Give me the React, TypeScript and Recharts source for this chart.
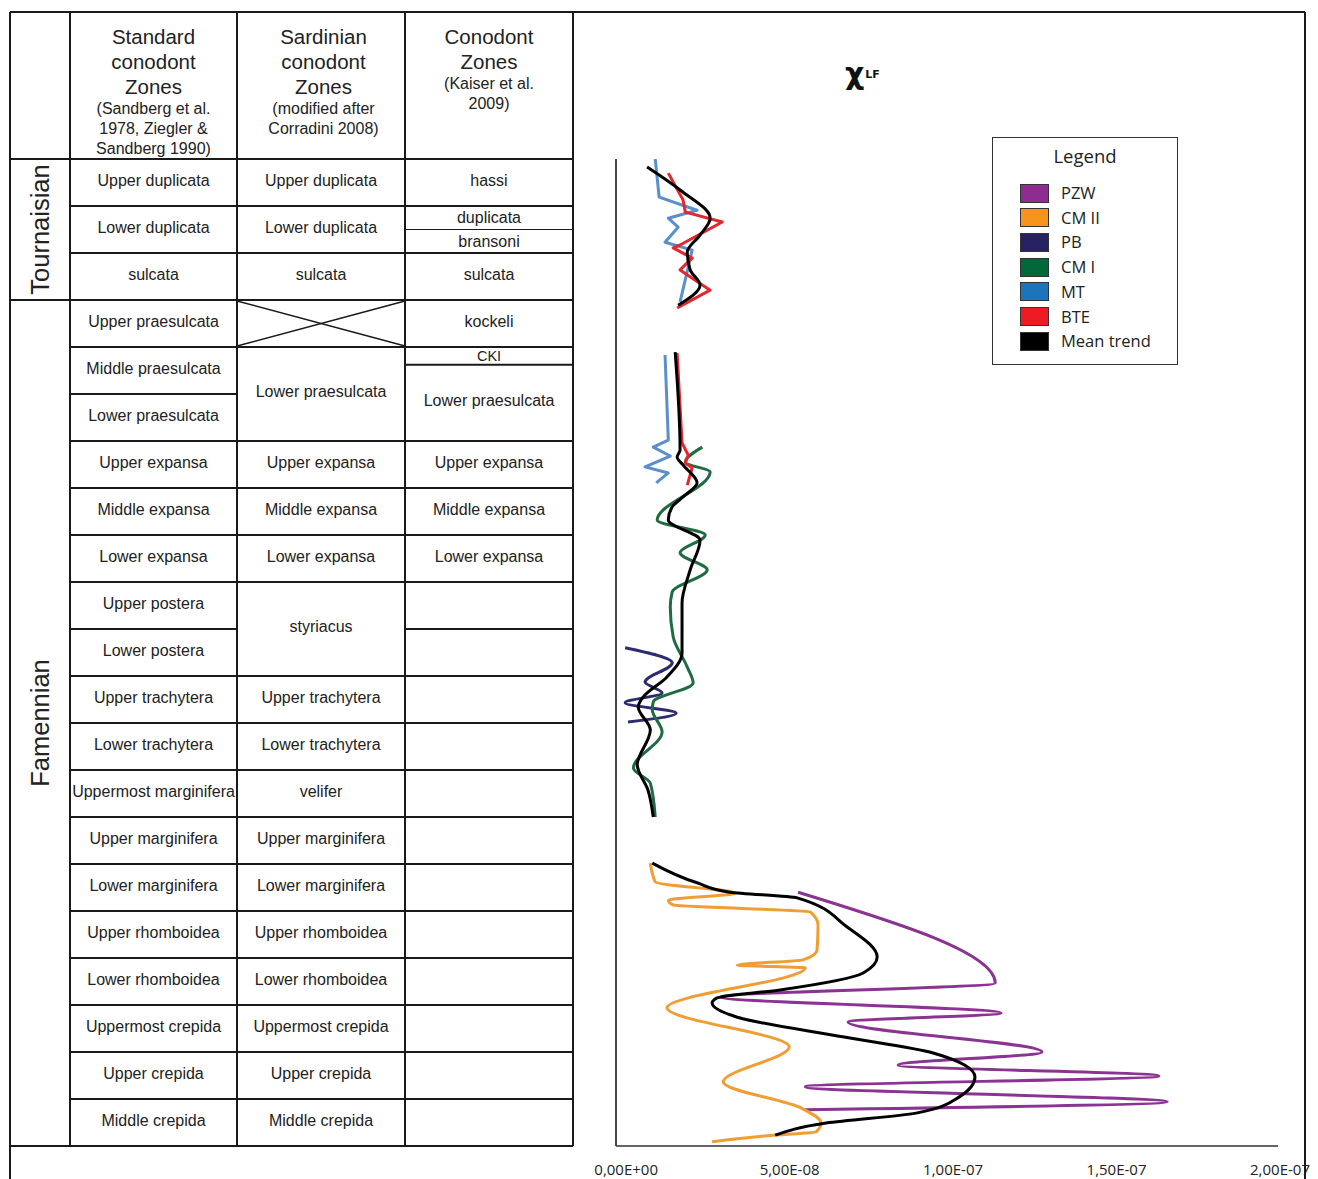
import React from 'react';
import { LineChart, Line, XAxis, YAxis } from 'recharts';

// Stratigraphic position in zone-row units (0 = top of Upper duplicata, 21 = base of Middle crepida)
// Values of chi LF in units of 1e-8; null = gap between sections
type P = [number, number | null];

const xTicks = [0, 5e-8, 1e-7, 1.5e-7, 2e-7];

const pzw: P[] = [
  [15.6, 5.32], [17.53, 11.35], [17.83, 2.94], [18.17, 11.53], [18.36, 6.85], [19.0, 12.78],
  [19.28, 8.38], [19.51, 16.36], [19.74, 5.54], [20.06, 16.61], [20.23, 5.54],
];

const cm2: P[] = [
  [14.98, 0.8], [15.38, 0.95], [15.62, 3.39], [15.77, 1.35], [15.87, 1.5], [16.02, 5.69],
  [16.3, 5.93], [16.83, 5.9], [17.04, 5.47], [17.15, 3.46], [17.21, 5.54], [18.06, 1.31],
  [18.89, 5.05], [19.64, 3.03], [20.19, 5.41], [20.51, 6.02], [20.7, 5.87], [20.77, 4.56], [20.91, 2.69],
];

const pb: P[] = [
  [10.4, 0.03], [10.72, 1.47], [11.13, 0.64], [11.36, 1.16], [11.57, 0.03], [11.79, 1.59], [11.98, 0.12],
];

const cm1: P[] = [
  [6.13, 2.39], [6.45, 1.87], [6.66, 2.63], [7.68, 1.01], [8.0, 2.48], [8.38, 1.71], [8.74, 2.54],
  [9.21, 1.47], [9.53, 1.41], [10.17, 1.5], [10.81, 1.93], [11.15, 2.11], [11.55, 0.89], [11.72, 0.86],
  [12.19, 1.16], [12.96, 0.28], [13.28, 0.8], [14.0, 0.95],
];

const mt: P[] = [
  [0.0, 0.95], [0.81, 1.07], [1.09, 2.23], [1.26, 1.35], [1.45, 1.65], [1.77, 1.25], [1.94, 2.08], [3.04, 1.71],
  [3.6, null],
  [4.17, 1.25], [5.98, 1.35], [6.13, 0.89], [6.32, 1.41], [6.55, 0.64], [6.68, 1.35], [6.89, 0.98],
];

const bte: P[] = [
  [0.3, 1.35], [0.87, 1.8], [1.13, 1.87], [1.34, 3.0], [1.83, 1.71], [1.89, 1.5], [2.11, 2.08],
  [2.36, 1.71], [2.79, 2.63], [3.17, 1.62],
  [3.6, null],
  [4.13, 1.62], [6.04, 1.77], [6.3, 1.96], [6.47, 1.87], [6.57, 2.08], [6.94, 1.93],
];

const meanTrend: P[] = [
  [0.17, 0.7], [0.66, 1.71], [1.26, 2.63], [1.62, 2.32], [1.98, 1.93], [2.36, 2.02], [2.68, 2.32], [3.11, 1.65],
  [3.6, null],
  [4.11, 1.56], [6.19, 1.71], [6.34, 1.62], [6.51, 1.8], [6.89, 2.23], [7.19, 1.8], [7.4, 1.47], [7.68, 1.35],
  [8.11, 2.32], [8.74, 2.02], [9.45, 1.77], [10.51, 1.77], [11.02, 1.31], [11.45, 0.58], [11.66, 0.43],
  [12.15, 0.8], [12.89, 0.4], [13.43, 0.73], [14.0, 0.89],
  [14.5, null],
  [14.98, 0.86], [15.4, 2.23], [15.6, 3.24], [15.72, 5.29], [16.34, 6.82], [16.98, 7.74], [17.32, 7.31],
  [17.68, 4.77], [17.85, 2.84], [17.96, 2.69], [18.26, 3.46], [18.68, 6.73], [19.02, 9.45], [19.53, 10.73],
  [19.96, 10.24], [20.3, 8.93], [20.51, 6.18], [20.77, 4.62],
];

const seriesNames = ['PZW', 'CM II', 'PB', 'CM I', 'MT', 'BTE', 'Mean trend'];

// Table text
const stageNames = ['Tournaisian', 'Famennian'];
const stageSpans = [3, 18];
const standardHeader = ['Standard', 'conodont', 'Zones'];
const standardRef = ['(Sandberg et al.', '1978, Ziegler &', 'Sandberg 1990)'];
const sardinianHeader = ['Sardinian', 'conodont', 'Zones'];
const sardinianRef = ['(modified after', 'Corradini 2008)'];
const kaiserHeader = ['Conodont', 'Zones'];
const kaiserRef = ['(Kaiser et al.', '2009)'];

const standardZones = [
  'Upper duplicata', 'Lower duplicata', 'sulcata', 'Upper praesulcata', 'Middle praesulcata',
  'Lower praesulcata', 'Upper expansa', 'Middle expansa', 'Lower expansa', 'Upper postera',
  'Lower postera', 'Upper trachytera', 'Lower trachytera', 'Uppermost marginifera', 'Upper marginifera',
  'Lower marginifera', 'Upper rhomboidea', 'Lower rhomboidea', 'Uppermost crepida', 'Upper crepida',
  'Middle crepida',
];
const sardinianZones: (string | null)[] = [
  'Upper duplicata', 'Lower duplicata', 'sulcata', null, 'Lower praesulcata', 'Upper expansa',
  'Middle expansa', 'Lower expansa', 'styriacus', 'Upper trachytera', 'Lower trachytera', 'velifer',
  'Upper marginifera', 'Lower marginifera', 'Upper rhomboidea', 'Lower rhomboidea', 'Uppermost crepida',
  'Upper crepida', 'Middle crepida',
];
const sardinianSpans = [1, 1, 1, 1, 2, 1, 1, 1, 2, 1, 1, 1, 1, 1, 1, 1, 1, 1, 1];
const kaiserZones = [
  'hassi', 'duplicata', 'bransoni', 'sulcata', 'kockeli', 'CKI', 'Lower praesulcata', 'Upper expansa',
  'Middle expansa', 'Lower expansa', '', '', '', '', '', '', '', '', '', '', '', '',
];
const kaiserSpans = [1, 0.5, 0.5, 1, 1, 0.38, 1.62, 1, 1, 1, 1, 1, 1, 1, 1, 1, 1, 1, 1, 1, 1, 1];

const COLORS: Record<string, { line: string; swatch: string; curve: 'monotone' | 'linear' }> = {
  PZW: { line: '#8b3392', swatch: '#8e2c91', curve: 'monotone' },
  'CM II': { line: '#f09e33', swatch: '#f7941d', curve: 'monotone' },
  PB: { line: '#2d2c6e', swatch: '#262262', curve: 'monotone' },
  'CM I': { line: '#1f6b42', swatch: '#00693b', curve: 'monotone' },
  MT: { line: '#5a8fcc', swatch: '#1c75bc', curve: 'linear' },
  BTE: { line: '#e3272b', swatch: '#ed1c24', curve: 'linear' },
  'Mean trend': { line: '#000000', swatch: '#000000', curve: 'monotone' },
};

const seriesPoints = [pzw, cm2, pb, cm1, mt, bte, meanTrend];

// split a series at null markers into separately drawn sections
const toSegments = (pts: P[]) => {
  const segs: { d: number; v: number }[][] = [[]];
  pts.forEach(([d, v]) => {
    if (v === null) segs.push([]);
    else segs[segs.length - 1].push({ d, v: v * 1e-8 });
  });
  return segs.filter((s) => s.length > 1);
};

const fmt = (v: number) => {
  const [m, e] = v.toExponential(2).split('e');
  const n = parseInt(e, 10);
  return m.replace('.', ',') + 'E' + (n < 0 ? '-' : '+') + String(Math.abs(n)).padStart(2, '0');
};

// Table geometry
const HEAD_TOP = 12;
const HEAD_BOT = 159;
const ROW = 47;
const colX = [10, 70, 237, 405, 573];
const yOf = (r: number) => HEAD_BOT + r * ROW;
const LINE = '#1a1a1a';
const TFONT = "'Liberation Sans', Arial, sans-serif";

function ZoneColumn({ x0, x1, labels, spans, thinAt = [] as number[] }: {
  x0: number; x1: number; labels: (string | null)[]; spans: number[]; thinAt?: number[];
}) {
  const els: React.ReactNode[] = [];
  let r = 0;
  labels.forEach((lab, i) => {
    const top = r;
    const bot = r + spans[i];
    const yt = yOf(top);
    const yb = yOf(bot);
    const small = spans[i] < 0.6;
    const thin = thinAt.some((t) => Math.abs(t - bot) < 1e-6);
    els.push(
      <line key={'h' + i} x1={x0} x2={x1} y1={yb} y2={yb} stroke={LINE} strokeWidth={thin ? 1 : 2} />
    );
    if (lab === null) {
      els.push(<line key={'xa' + i} x1={x0} y1={yt + 1} x2={x1} y2={yb - 1} stroke={LINE} strokeWidth={1.5} />);
      els.push(<line key={'xb' + i} x1={x0} y1={yb - 1} x2={x1} y2={yt + 1} stroke={LINE} strokeWidth={1.5} />);
    } else if (lab) {
      els.push(
        <text key={'t' + i} x={(x0 + x1) / 2} y={(yt + yb) / 2 - (small ? 0 : 2.5)} textAnchor="middle"
          dominantBaseline="central" fontSize={spans[i] < 0.45 ? 14.5 : 16} fill="#222" fontFamily={TFONT}>{lab}</text>
      );
    }
    r = bot;
  });
  return <g>{els}</g>;
}

function Table() {
  const headerLines = (x: number, big: string[], small: string[], bigY: number[], smallY: number[]) => (
    <g>
      {big.map((t, i) => (
        <text key={'b' + i} x={x} y={bigY[i]} textAnchor="middle" dominantBaseline="central"
          fontSize={20.5} fill="#222" fontFamily={TFONT}>{t}</text>
      ))}
      {small.map((t, i) => (
        <text key={'s' + i} x={x} y={smallY[i]} textAnchor="middle" dominantBaseline="central"
          fontSize={16} fill="#222" fontFamily={TFONT}>{t}</text>
      ))}
    </g>
  );
  let sr = 0;
  return (
    <svg width={1318} height={1179} style={{ position: 'absolute', left: 0, top: 0 }}>
      {/* frame */}
      <line x1={10} x2={1305} y1={HEAD_TOP} y2={HEAD_TOP} stroke={LINE} strokeWidth={2} />
      <line x1={1305} x2={1305} y1={HEAD_TOP} y2={1179} stroke={LINE} strokeWidth={2} />
      <line x1={10} x2={10} y1={HEAD_TOP} y2={1179} stroke={LINE} strokeWidth={2} />
      {colX.slice(1).map((x) => (
        <line key={x} x1={x} x2={x} y1={HEAD_TOP} y2={yOf(21)} stroke={LINE} strokeWidth={2} />
      ))}
      <line x1={10} x2={573} y1={HEAD_BOT} y2={HEAD_BOT} stroke={LINE} strokeWidth={2} />
      {/* stages */}
      {stageNames.map((s, i) => {
        const top = sr;
        sr += stageSpans[i];
        const yb = yOf(sr);
        const cy = (yOf(top) + yb) / 2;
        return (
          <g key={s}>
            <line x1={10} x2={70} y1={yb} y2={yb} stroke={LINE} strokeWidth={2} />
            <text x={40} y={cy} transform={`rotate(-90 40 ${cy})`} textAnchor="middle"
              dominantBaseline="central" fontSize={25.5} fill="#222" fontFamily={TFONT}>{s}</text>
          </g>
        );
      })}
      {headerLines(153.5, standardHeader, standardRef, [36, 61, 86], [108, 128, 148])}
      {headerLines(323.5, sardinianHeader, sardinianRef, [36, 61, 86], [108, 128])}
      {headerLines(489, kaiserHeader, kaiserRef, [36, 61], [83, 103])}
      <ZoneColumn x0={70} x1={237} labels={standardZones} spans={standardZones.map(() => 1)} />
      <ZoneColumn x0={237} x1={405} labels={sardinianZones} spans={sardinianSpans} />
      <ZoneColumn x0={405} x1={573} labels={kaiserZones} spans={kaiserSpans} thinAt={[1.5]} />
      {/* title */}
      <text x={845} y={84} fontSize={30} fontWeight="bold" fill="#111"
        fontFamily="'DejaVu Sans', sans-serif">χ<tspan fontSize={11} dx={1} dy={-6}>LF</tspan></text>
    </svg>
  );
}

function LegendBox() {
  return (
    <div style={{
      position: 'absolute', left: 992, top: 137, width: 186, height: 228, boxSizing: 'border-box',
      border: '1.5px solid #333', background: '#fff', fontFamily: "'Open Sans', sans-serif", color: '#222',
    }}>
      <div style={{ position: 'absolute', left: 0, width: '100%', top: 5, textAlign: 'center', fontSize: 18.5, lineHeight: '26px' }}>
        Legend
      </div>
      {seriesNames.map((n, i) => (
        <div key={n} style={{ position: 'absolute', left: 0, top: 44 + i * 24.7, height: 22, width: '100%' }}>
          <div style={{
            position: 'absolute', left: 27, top: 1.5, width: 29, height: 19, boxSizing: 'border-box',
            background: COLORS[n].swatch, border: '1px solid #333',
          }} />
          <div style={{ position: 'absolute', left: 68, top: 0, fontSize: 16.5, lineHeight: '22px' }}>{n}</div>
        </div>
      ))}
    </div>
  );
}

export default function App() {
  return (
    <div style={{ position: 'absolute', left: 0, top: 0, width: 1318, height: 1179, overflow: 'hidden', background: '#fff' }}>
      <Table />
      <div style={{ position: 'absolute', left: 0, top: 0 }}>
        <LineChart width={1318} height={1179} layout="vertical"
          margin={{ top: 159, right: 40, bottom: 3, left: 615 }}>
          <XAxis type="number" dataKey="v" domain={[-2.5e-9, 2e-7]} ticks={xTicks} allowDataOverflow
            height={30} tickSize={0} tickMargin={18} tickFormatter={fmt} interval={0}
            axisLine={{ stroke: '#333', strokeWidth: 1.5 }}
            tick={{ fill: '#222', fontSize: 15, fontFamily: "'Open Sans', sans-serif", dx: 2 }} />
          <YAxis type="number" dataKey="d" domain={[0, 21]} allowDataOverflow width={1}
            tick={false} tickLine={false} axisLine={{ stroke: '#444', strokeWidth: 2 }} />
          {seriesNames.map((n, i) =>
            toSegments(seriesPoints[i]).map((seg, j) => (
              <Line key={n + j} data={seg} dataKey="v" name={n} type={COLORS[n].curve}
                stroke={COLORS[n].line} strokeWidth={3} dot={false} activeDot={false}
                isAnimationActive={false} strokeLinejoin="round" />
            ))
          )}
        </LineChart>
      </div>
      <LegendBox />
    </div>
  );
}
